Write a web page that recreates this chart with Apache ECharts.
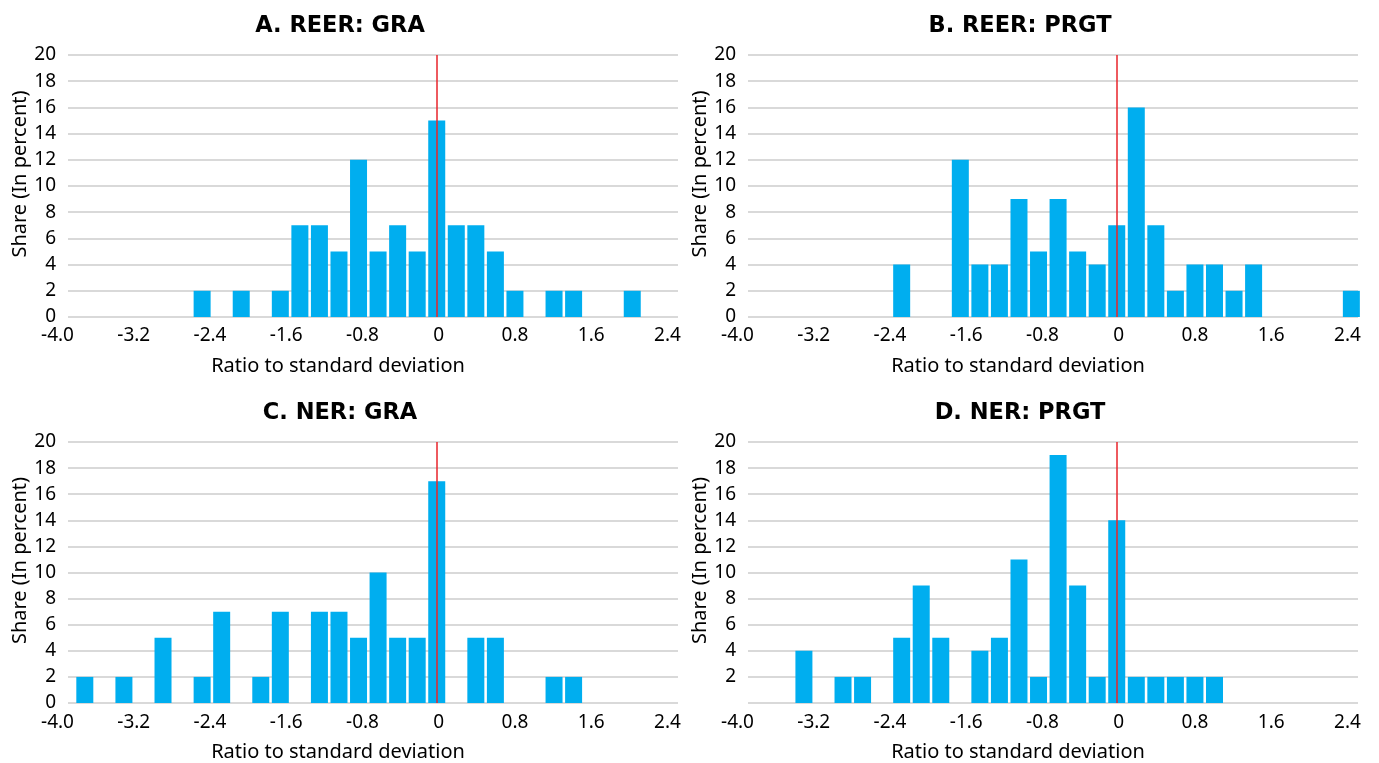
<!DOCTYPE html>
<html><head><meta charset="utf-8">
<script src="https://cdn.jsdelivr.net/npm/echarts@6/dist/echarts.min.js"></script>
<style>html,body{margin:0;padding:0;background:#fff}#c{width:1379px;height:763px}</style>
</head><body><div id="c"></div>
<script>
const titles = ['A. REER: GRA', 'B. REER: PRGT', 'C. NER: GRA', 'D. NER: PRGT'];
const xTickLabels = ['-4.0', '-3.2', '-2.4', '-1.6', '-0.8', '0', '0.8', '1.6', '2.4'];
const xAxisName = 'Ratio to standard deviation';
const yAxisName = 'Share (In percent)';

const binsA = [-2.4, -2.0, -1.6, -1.4, -1.2, -1.0, -0.8, -0.6, -0.4, -0.2, 0, 0.2, 0.4, 0.6, 0.8, 1.2, 1.4, 2.0];
const sharesA = [2, 2, 2, 7, 7, 5, 12, 5, 7, 5, 15, 7, 7, 5, 2, 2, 2, 2];

const binsB = [-2.2, -1.6, -1.4, -1.2, -1.0, -0.8, -0.6, -0.4, -0.2, 0, 0.2, 0.4, 0.6, 0.8, 1.0, 1.2, 1.4, 2.4];
const sharesB = [4, 12, 4, 4, 9, 5, 9, 5, 4, 7, 16, 7, 2, 4, 4, 2, 4, 2];

const binsC = [-3.6, -3.2, -2.8, -2.4, -2.2, -1.8, -1.6, -1.2, -1.0, -0.8, -0.6, -0.4, -0.2, 0, 0.4, 0.6, 1.2, 1.4];
const sharesC = [2, 2, 5, 2, 7, 2, 7, 7, 7, 5, 10, 5, 5, 17, 5, 5, 2, 2];

const binsD = [-3.2, -2.8, -2.6, -2.2, -2.0, -1.8, -1.4, -1.2, -1.0, -0.8, -0.6, -0.4, -0.2, 0, 0.2, 0.4, 0.6, 0.8, 1.0];
const sharesD = [4, 2, 2, 5, 9, 5, 4, 5, 11, 2, 19, 9, 2, 14, 2, 2, 2, 2, 2];

const panels = [
  { title: titles[0], bins: binsA, shares: sharesA, left: 68, top: 55, zeroLabel: true },
  { title: titles[1], bins: binsB, shares: sharesB, left: 748, top: 55, zeroLabel: true },
  { title: titles[2], bins: binsC, shares: sharesC, left: 68, top: 442, zeroLabel: true },
  { title: titles[3], bins: binsD, shares: sharesD, left: 748, top: 442, zeroLabel: false }
];

const W = 610, H = 262;
const X_MIN = -3.772, X_MAX = 2.468;
const FONT = 'Noto Sans';
const FS = 19;
const NFS = 20;
const BAR = '#00AEEF';
const GRIDC = '#D9D9D9';

const option = { animation: false, title: [], grid: [], xAxis: [], yAxis: [], series: [] };

panels.forEach((p, i) => {
  option.title.push({
    text: p.title, left: p.left + 267, top: p.top - 45, textAlign: 'center',
    textStyle: { fontFamily: 'DejaVu Sans', fontWeight: 'bold', fontSize: 22.5, color: '#000' }
  });
  option.grid.push({ left: p.left, top: p.top, width: W, height: H });
  option.grid.push({ left: p.left - 10.5, top: p.top, width: W, height: H });
  option.xAxis.push({
    gridIndex: 2 * i, type: 'value', min: X_MIN, max: X_MAX,
    axisLabel: { show: false }, axisLine: { show: false }, axisTick: { show: false }, splitLine: { show: false },
    name: xAxisName, nameLocation: 'middle', nameGap: 39,
    nameTextStyle: { fontFamily: FONT, fontSize: NFS, color: '#000', padding: [0, 70, 0, 0] }
  });
  option.xAxis.push({
    gridIndex: 2 * i + 1, type: 'category', data: xTickLabels, boundaryGap: false,
    axisLine: { show: false }, axisTick: { show: false }, splitLine: { show: false },
    axisLabel: { interval: 0, margin: 9, fontFamily: FONT, fontSize: FS, color: '#000' }
  });
  option.yAxis.push({
    gridIndex: 2 * i, type: 'value', min: 0, max: 20, interval: 2,
    axisLine: { show: false }, axisTick: { show: false },
    axisLabel: {
      margin: 12, fontFamily: FONT, fontSize: FS, color: '#000',
      formatter: (v) => (v === 0 && !p.zeroLabel) ? '' : String(v)
    },
    splitLine: { lineStyle: { color: GRIDC, width: 2 } },
    name: yAxisName, nameLocation: 'middle', nameGap: 35,
    nameTextStyle: { fontFamily: FONT, fontSize: NFS, color: '#000', padding: [0, 0, 0, 24] }
  });
  option.yAxis.push({ gridIndex: 2 * i + 1, type: 'value', min: 0, max: 1, show: false });
  option.series.push({
    type: 'bar', xAxisIndex: 2 * i, yAxisIndex: 2 * i,
    data: p.bins.map((b, k) => [b, p.shares[k]]),
    barWidth: 17, itemStyle: { color: BAR },
    markLine: {
      silent: true, symbol: ['none', 'none'], label: { show: false },
      lineStyle: { color: '#E8232A', width: 1.5, type: 'solid' },
      data: [{ xAxis: 0 }]
    }
  });
});

const chart = echarts.init(document.getElementById('c'), null, { renderer: 'canvas' });
chart.setOption(option);
</script>
</body></html>
